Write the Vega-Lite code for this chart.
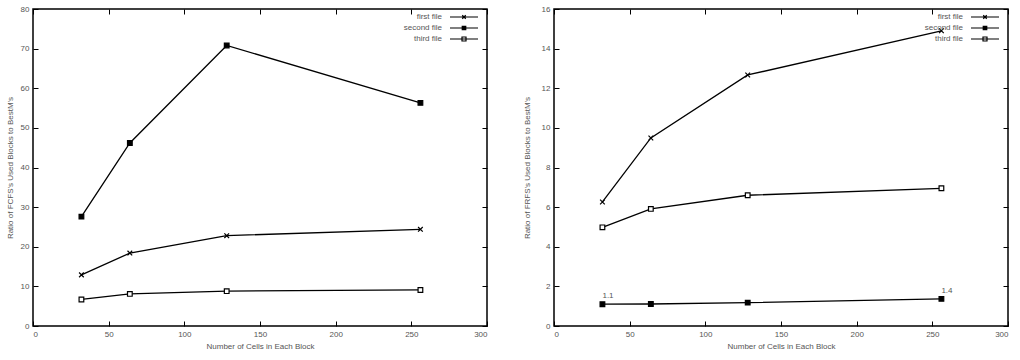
{
  "$schema": "https://vega.github.io/schema/vega-lite/v6.json",
  "padding": {"left": 5, "top": 4, "right": 4, "bottom": 4},
  "background": "white",
  "config": {
    "view": {"stroke": "#000", "strokeWidth": 1.5},
    "font": "Liberation Sans",
    "axis": {
      "grid": false, "domain": false, "tickColor": "#000", "tickSize": -5, "tickWidth": 1,
      "labelPadding": 9, "labelFontSize": 8, "labelColor": "#555", "titleFontSize": 8,
      "titleFontWeight": "normal", "titleColor": "#555"
    },
    "legend": {
      "orient": "top-right", "offset": 2, "labelFontSize": 8, "labelColor": "#555",
      "title": null, "labelAlign": "right", "labelOffset": -35, "rowPadding": 0,
      "symbolStrokeColor": "#000", "symbolStrokeWidth": 1.2, "symbolSize": 100,
      "symbolFillColor": "transparent", "symbolOpacity": 1, "padding": 0
    }
  },
  "datasets": {
    "left": [
      {"cells": 32, "ratio": 12.9, "file": "first file"},
      {"cells": 64, "ratio": 18.4, "file": "first file"},
      {"cells": 128, "ratio": 22.8, "file": "first file"},
      {"cells": 256, "ratio": 24.4, "file": "first file"},
      {"cells": 32, "ratio": 27.6, "file": "second file"},
      {"cells": 64, "ratio": 46.2, "file": "second file"},
      {"cells": 128, "ratio": 70.8, "file": "second file"},
      {"cells": 256, "ratio": 56.3, "file": "second file"},
      {"cells": 32, "ratio": 6.7, "file": "third file"},
      {"cells": 64, "ratio": 8.1, "file": "third file"},
      {"cells": 128, "ratio": 8.8, "file": "third file"},
      {"cells": 256, "ratio": 9.1, "file": "third file"}
    ],
    "right": [
      {"cells": 32, "ratio": 6.26, "file": "first file"},
      {"cells": 64, "ratio": 9.49, "file": "first file"},
      {"cells": 128, "ratio": 12.67, "file": "first file"},
      {"cells": 256, "ratio": 14.9, "file": "first file"},
      {"cells": 32, "ratio": 1.1, "file": "second file", "label": "1.1"},
      {"cells": 64, "ratio": 1.11, "file": "second file"},
      {"cells": 128, "ratio": 1.18, "file": "second file"},
      {"cells": 256, "ratio": 1.37, "file": "second file", "label": "1.4"},
      {"cells": 32, "ratio": 4.98, "file": "third file"},
      {"cells": 64, "ratio": 5.91, "file": "third file"},
      {"cells": 128, "ratio": 6.6, "file": "third file"},
      {"cells": 256, "ratio": 6.95, "file": "third file"}
    ]
  },
  "hconcat": [
    {
      "width": 454, "height": 317,
      "data": {"name": "left"},
      "layer": [
        {
          "mark": {"type": "line", "color": "#000", "strokeWidth": 1.3},
          "encoding": {
            "x": {"field": "cells", "type": "quantitative", "scale": {"domain": [0, 300], "nice": false},
              "axis": {"orient": "bottom", "values": [0, 50, 100, 150, 200, 250, 300], "title": "Number of Cells in Each Block", "titlePadding": 4}},
            "y": {"field": "ratio", "type": "quantitative", "scale": {"domain": [0, 80], "nice": false},
              "axis": {"orient": "left", "values": [0, 10, 20, 30, 40, 50, 60, 70, 80], "title": "Ratio of FCFS's Used Blocks to BestM's", "titlePadding": 6}},
            "detail": {"field": "file"}
          }
        },
        {
          "mark": {"type": "point", "opacity": 1, "size": 22, "strokeWidth": 1.2, "color": "#000"},
          "encoding": {
            "x": {"field": "cells", "type": "quantitative", "axis": null},
            "y": {"field": "ratio", "type": "quantitative", "axis": null},
            "shape": {"field": "file", "scale": {"domain": ["first file", "second file", "third file"], "range": ["M-1,-1L1,1M1,-1L-1,1", "square", "square"]}, "legend": null},
            "fill": {"field": "file", "scale": {"domain": ["first file", "second file", "third file"], "range": ["transparent", "#000", "#fff"]}, "legend": null}
          }
        },
        {
          "mark": {"type": "point", "opacity": 0, "filled": false},
          "encoding": {
            "x": {"field": "cells", "type": "quantitative", "axis": {"orient": "top", "labels": false, "title": null, "values": [0, 50, 100, 150, 200, 250, 300]}},
            "y": {"field": "ratio", "type": "quantitative", "axis": {"orient": "right", "labels": false, "title": null, "values": [0, 10, 20, 30, 40, 50, 60, 70, 80]}},
            "shape": {"field": "file", "scale": {"domain": ["first file", "second file", "third file"], "range": [
              "M-4.2,0L1.4,0M-1.75,-0.35L-1.05,0.35M-1.05,-0.35L-1.75,0.35M2.3,0",
              "M-4.2,0L1.4,0M-1.75,-0.35L-1.05,-0.35L-1.05,0.35L-1.75,0.35ZM-1.58,-0.18L-1.22,-0.18L-1.22,0.18L-1.58,0.18ZM2.3,0",
              "M-4.2,0L1.4,0M-1.8,-0.4L-1,-0.4L-1,0.4L-1.8,0.4ZM2.3,0"]},
              "legend": {"symbolOpacity": 1}}
          }
        }
      ],
      "resolve": {"axis": {"x": "independent", "y": "independent"}, "scale": {"shape": "independent"}}
    },
    {
      "width": 454, "height": 317,
      "data": {"name": "right"},
      "layer": [
        {
          "mark": {"type": "line", "color": "#000", "strokeWidth": 1.3},
          "encoding": {
            "x": {"field": "cells", "type": "quantitative", "scale": {"domain": [0, 300], "nice": false},
              "axis": {"orient": "bottom", "values": [0, 50, 100, 150, 200, 250, 300], "title": "Number of Cells in Each Block", "titlePadding": 4}},
            "y": {"field": "ratio", "type": "quantitative", "scale": {"domain": [0, 16], "nice": false},
              "axis": {"orient": "left", "values": [0, 2, 4, 6, 8, 10, 12, 14, 16], "title": "Ratio of FRFS's Used Blocks to BestM's", "titlePadding": 10}},
            "detail": {"field": "file"}
          }
        },
        {
          "mark": {"type": "point", "opacity": 1, "size": 22, "strokeWidth": 1.2, "color": "#000"},
          "encoding": {
            "x": {"field": "cells", "type": "quantitative", "axis": null},
            "y": {"field": "ratio", "type": "quantitative", "axis": null},
            "shape": {"field": "file", "scale": {"domain": ["first file", "second file", "third file"], "range": ["M-1,-1L1,1M1,-1L-1,1", "square", "square"]}, "legend": null},
            "fill": {"field": "file", "scale": {"domain": ["first file", "second file", "third file"], "range": ["transparent", "#000", "#fff"]}, "legend": null}
          }
        },
        {
          "transform": [{"filter": "isValid(datum.label)"}],
          "mark": {"type": "text", "fontSize": 8, "color": "#555", "align": "left", "dx": 0, "dy": -8},
          "encoding": {
            "x": {"field": "cells", "type": "quantitative", "axis": null},
            "y": {"field": "ratio", "type": "quantitative", "axis": null},
            "text": {"field": "label"}
          }
        },
        {
          "mark": {"type": "point", "opacity": 0, "filled": false},
          "encoding": {
            "x": {"field": "cells", "type": "quantitative", "axis": {"orient": "top", "labels": false, "title": null, "values": [0, 50, 100, 150, 200, 250, 300]}},
            "y": {"field": "ratio", "type": "quantitative", "axis": {"orient": "right", "labels": false, "title": null, "values": [0, 2, 4, 6, 8, 10, 12, 14, 16]}},
            "shape": {"field": "file", "scale": {"domain": ["first file", "second file", "third file"], "range": [
              "M-4.2,0L1.4,0M-1.75,-0.35L-1.05,0.35M-1.05,-0.35L-1.75,0.35M2.3,0",
              "M-4.2,0L1.4,0M-1.75,-0.35L-1.05,-0.35L-1.05,0.35L-1.75,0.35ZM-1.58,-0.18L-1.22,-0.18L-1.22,0.18L-1.58,0.18ZM2.3,0",
              "M-4.2,0L1.4,0M-1.8,-0.4L-1,-0.4L-1,0.4L-1.8,0.4ZM2.3,0"]},
              "legend": {"symbolOpacity": 1}}
          }
        }
      ],
      "resolve": {"axis": {"x": "independent", "y": "independent"}, "scale": {"shape": "independent"}}
    }
  ],
  "spacing": 33
}
